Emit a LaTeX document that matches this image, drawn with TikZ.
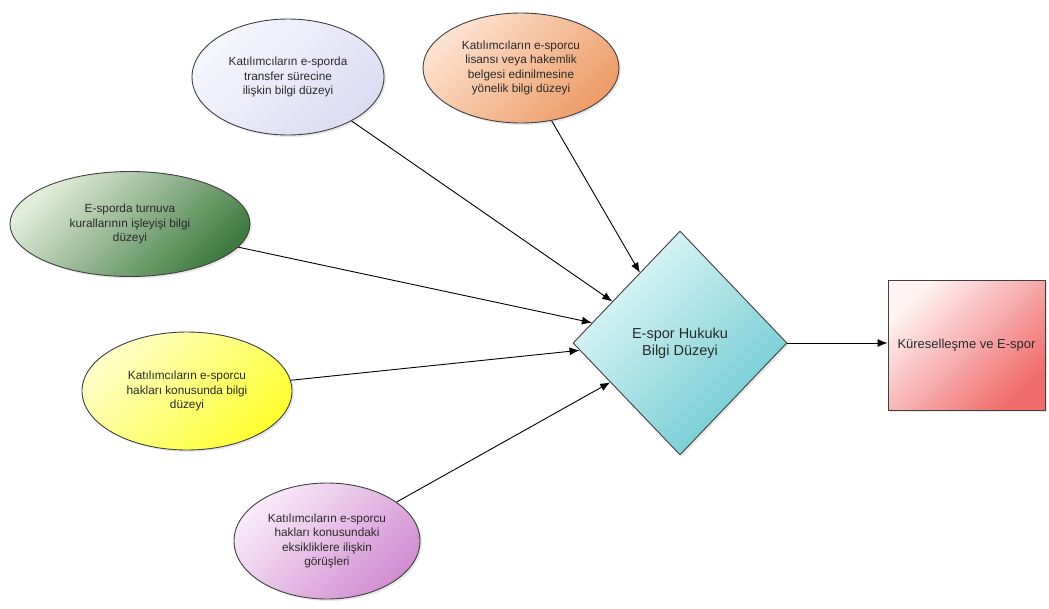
\documentclass[tikz,border=0pt]{standalone}
\usepackage{fontspec}
\setmainfont{Liberation Sans}
\usetikzlibrary{shapes.geometric,arrows.meta,shadows,calc}
\definecolor{lavA}{HTML}{F6F6FD}
\definecolor{lavB}{HTML}{DCDCF4}
\definecolor{orA}{HTML}{FCE2D0}
\definecolor{orB}{HTML}{EE9C68}
\definecolor{grA}{HTML}{E2EEDA}
\definecolor{grB}{HTML}{3F7A40}
\definecolor{yeA}{HTML}{FFFFC8}
\definecolor{yeB}{HTML}{FFFF30}
\definecolor{puA}{HTML}{FAEAFA}
\definecolor{puB}{HTML}{D08ED0}
\definecolor{diA}{HTML}{E4F7F8}
\definecolor{diB}{HTML}{6CCAD2}
\definecolor{reA}{HTML}{FFF2F2}
\definecolor{reB}{HTML}{F06C6C}
\definecolor{edge}{HTML}{404040}
\definecolor{txt}{HTML}{2A2A2A}
\tikzset{
  shp/.style={draw=edge, line width=0.9pt, inner sep=0pt, align=center, text=txt,
    font=\fontsize{11.8}{14.5}\selectfont,
    drop shadow={shadow xshift=2pt, shadow yshift=-2pt, opacity=0.18}},
  ell/.style={shp, ellipse},
  arr/.style={draw=black, line width=0.9pt, -{Latex[length=10pt,width=8pt]}},
}
\begin{document}
\begin{tikzpicture}[x=1pt,y=-1pt]
\useasboundingbox (0,0) rectangle (1049,608);
\node[ell, minimum width=192pt, minimum height=116pt, top color=lavA, bottom color=lavB, shading angle=45]
  (lav) at (288,77) {Katılımcıların e-sporda\\transfer sürecine\\ilişkin bilgi düzeyi};
\node[ell, minimum width=196pt, minimum height=110pt, top color=orA, bottom color=orB, shading angle=45]
  (ora) at (521,68) {Katılımcıların e-sporcu\\lisansı veya hakemlik\\belgesi edinilmesine\\yönelik bilgi düzeyi};
\node[ell, minimum width=240pt, minimum height=105pt, top color=grA, bottom color=grB, shading angle=45]
  (gre) at (130,224) {E-sporda turnuva\\kurallarının işleyişi bilgi\\düzeyi};
\node[ell, minimum width=210pt, minimum height=118pt, top color=yeA, bottom color=yeB, shading angle=45]
  (yel) at (187,391) {Katılımcıların e-sporcu\\hakları konusunda bilgi\\düzeyi};
\node[ell, minimum width=186pt, minimum height=116pt, top color=puA, bottom color=puB, shading angle=45]
  (pur) at (327,541) {Katılımcıların e-sporcu\\hakları konusundaki\\eksikliklere ilişkin\\görüşleri};
\node[shp, diamond, minimum width=214pt, minimum height=224pt, top color=diA, bottom color=diB, shading angle=45,
  font=\fontsize{14.5}{17.5}\selectfont]
  (dia) at (680,343) {E-spor Hukuku\\Bilgi Düzeyi};
\node[shp, rectangle, minimum width=157pt, minimum height=130pt, top color=reA, bottom color=reB, shading angle=45,
  font=\fontsize{13}{15.5}\selectfont]
  (rec) at (966.5,345) {Küreselleşme ve E-spor};
\coordinate (t1) at ($(dia.west)!0.626!(dia.north)$);
\coordinate (t2) at ($(dia.west)!0.37!(dia.north)$);
\coordinate (t3) at ($(dia.west)!0.18!(dia.north)$);
\coordinate (t4) at ($(dia.west)!0.065!(dia.south)$);
\coordinate (t5) at ($(dia.west)!0.35!(dia.south)$);
\draw[arr] (ora) -- (t1);
\draw[arr] (lav) -- (t2);
\draw[arr] (gre) -- (t3);
\draw[arr] (yel) -- (t4);
\draw[arr] (pur) -- (t5);
\draw[arr] (dia.east) -- (dia.east -| rec.west);
\end{tikzpicture}
\end{document}
